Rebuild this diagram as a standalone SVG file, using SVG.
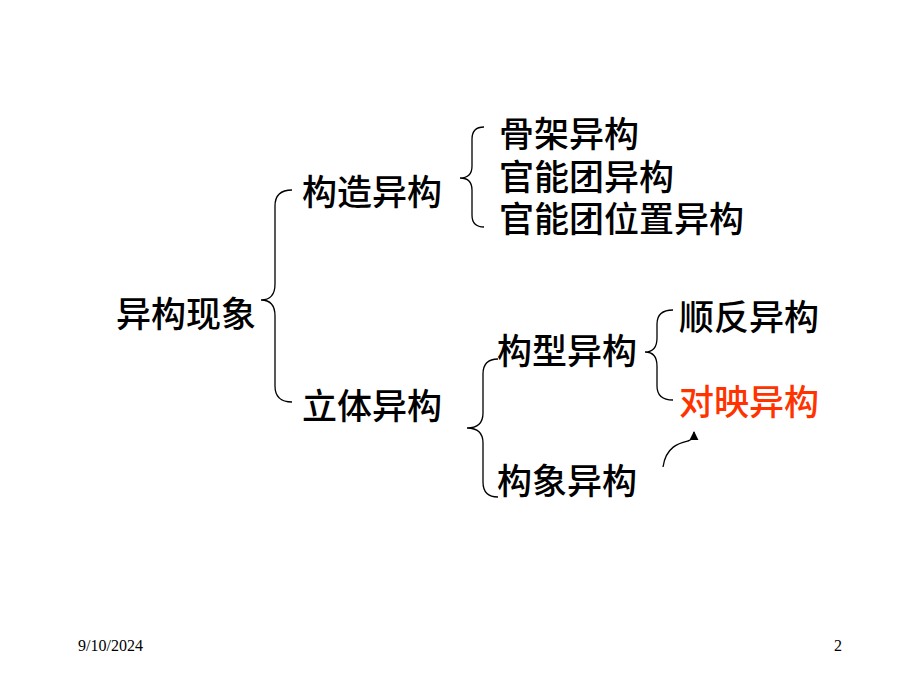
<svg xmlns="http://www.w3.org/2000/svg" width="920" height="690" viewBox="0 0 920 690">
<defs>
<style>
.t{font-family:"Noto Sans CJK SC","Noto Sans CJK TC",sans-serif;font-size:35px;font-weight:500;fill:#000}
.red{fill:#FF3300}
.f{font-family:"Liberation Serif",serif;font-size:16px;fill:#000}
.b{fill:none;stroke:#000;stroke-width:1.3}
</style>
<marker id="ah" viewBox="0 0 10 10" refX="9" refY="5" markerWidth="9" markerHeight="9" orient="auto" markerUnits="userSpaceOnUse">
<path d="M0,0 L10,5 L0,10 z" fill="#000"/>
</marker>
</defs>
<rect width="920" height="690" fill="#fff"/>
<g id="connectors">
<path class="b" d="M292,190 Q275,190 275,206 L275,284 Q275,300 261,300 Q275,300 275,316 L275,386 Q275,402 292,402"/>
<path class="b" d="M484,127 Q472,127 472,139 L472,166 Q472,178 460,178 Q472,178 472,190 L472,215 Q472,227 484,227"/>
<path class="b" d="M498,359 Q483,359 483,374 L483,413 Q483,428 467,428 Q483,428 483,443 L483,482 Q483,497 498,497"/>
<path class="b" d="M673,310 Q657,310 657,324 L657,338 Q657,352 645,352 Q657,352 657,366 L657,386 Q657,400 673,400"/>
<path class="b" d="M663,467 C666,446 680,443 688,441 C692,440 694,436 694,432" marker-end="url(#ah)"/>
</g>
<g id="n_root"><text class="t" x="116" y="327">异构现象</text></g>
<g id="n_gouzao"><text class="t" x="302" y="205">构造异构</text></g>
<g id="n_liti"><text class="t" x="302" y="419">立体异构</text></g>
<g id="n_gujia"><text class="t" x="499" y="147">骨架异构</text></g>
<g id="n_guannengtuan"><text class="t" x="499" y="190">官能团异构</text></g>
<g id="n_weizhi"><text class="t" x="499" y="232">官能团位置异构</text></g>
<g id="n_gouxing"><text class="t" x="497" y="364">构型异构</text></g>
<g id="n_gouxiang"><text class="t" x="497" y="494">构象异构</text></g>
<g id="n_shunfan"><text class="t" x="679" y="330">顺反异构</text></g>
<g id="n_duiying"><text class="t red" x="679" y="415">对映异构</text></g>
<g id="footer">
<text class="f" x="78" y="651">9/10/2024</text>
<text class="f" x="834" y="651">2</text>
</g>
</svg>
